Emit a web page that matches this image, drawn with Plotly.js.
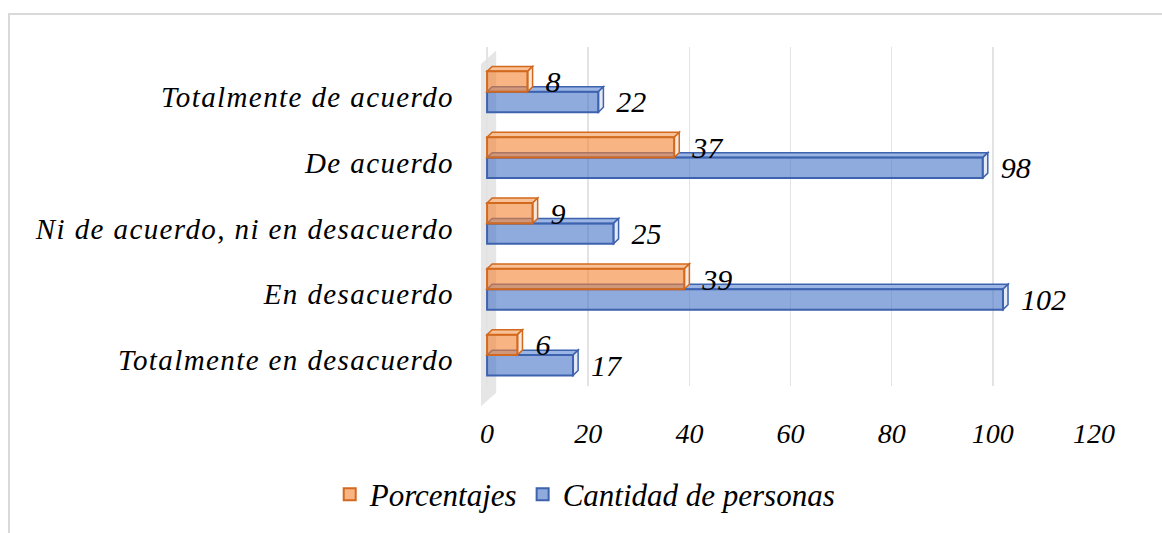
<!DOCTYPE html>
<html><head><meta charset="utf-8">
<script src="https://cdn.plot.ly/plotly-3.0.1.min.js"></script>
<style>
html,body{margin:0;padding:0;background:#fff;}
#wrap{position:relative;width:1162px;height:533px;overflow:hidden;}
#chart{position:absolute;left:0;top:0;width:1162px;height:533px;}
#frame{position:absolute;left:8px;top:13px;width:1200px;height:600px;border:2px solid #d9d9d9;pointer-events:none;box-sizing:border-box;}
#chart .ytick text{letter-spacing:1.4px;}
</style></head>
<body><div id="wrap"><div id="chart"></div><div id="frame"></div></div>
<script>
const categories = ["Totalmente en desacuerdo","En desacuerdo","Ni de acuerdo, ni en desacuerdo","De acuerdo","Totalmente de acuerdo"];
const porcentajes = [6, 39, 9, 37, 8];
const cantidad = [17, 102, 25, 98, 22];
const xTicks = [0, 20, 40, 60, 80, 100, 120];

const idx = categories.map((c, i) => i);
const FONT = "Liberation Serif";
const barW = 0.31;
const blueOff = -0.34, orangeOff = -0.03;
const dx = 1.0, dy = 0.075;

const blue = {fill: "rgba(68,114,196,0.6)", line: "#3D62AE", top: "rgba(150,178,228,0.95)", end: "#e4eaf5"};
const orange = {fill: "rgba(245,130,50,0.6)", line: "#D2691E", top: "rgba(249,190,145,0.95)", end: "#f7e6da"};

function tr(name, vals, off, c, rank) {
  return {
    type: "bar", orientation: "h", name: name, x: vals, y: idx,
    width: barW, offset: off,
    marker: {color: c.fill, line: {color: c.line, width: 2}},
    text: vals.map(v => "  " + v), textposition: "outside", constraintext: "none",
    textfont: {family: FONT, size: 30, color: "#000", style: "italic"},
    cliponaxis: false, legendrank: rank, hoverinfo: "x"
  };
}

const shapes = [];
shapes.push({type: "path", xref: "x", yref: "paper", layer: "below",
  path: "M -1.2,-0.06 L -1.2,0.95 L 1.8,0.99 L 1.8,-0.02 Z",
  fillcolor: "#e6e6e6", line: {width: 0}});
function caps(vals, off, c) {
  vals.forEach((v, i) => {
    const bot = i + off, top = i + off + barW;
    shapes.push({type: "path", xref: "x", yref: "y", layer: "between",
      path: `M 0,${top} L ${v},${top} L ${v + dx},${top + dy} L ${dx},${top + dy} Z`,
      fillcolor: c.top, line: {color: c.line, width: 1.5}});
    shapes.push({type: "path", xref: "x", yref: "y", layer: "between",
      path: `M ${v},${bot} L ${v},${top} L ${v + dx},${top + dy} L ${v + dx},${bot + dy} Z`,
      fillcolor: c.end, line: {color: c.line, width: 1.5}});
  });
}
caps(cantidad, blueOff, blue);
caps(porcentajes, orangeOff, orange);

const data = [
  tr("Cantidad de personas", cantidad, blueOff, blue, 2),
  tr("Porcentajes", porcentajes, orangeOff, orange, 1)
];

const layout = {
  width: 1162, height: 533,
  margin: {l: 481, r: 68, t: 47, b: 143},
  paper_bgcolor: "#fff", plot_bgcolor: "#fff",
  font: {family: FONT, size: 28, color: "#000", style: "italic"},
  showlegend: true,
  legend: {orientation: "h", x: 0.17, xanchor: "center", y: -0.32, yanchor: "middle",
    font: {family: FONT, size: 31, color: "#000", style: "italic"}, itemwidth: 30, tracegroupgap: 0},
  xaxis: {range: [-1.2, 120], tickvals: xTicks, ticktext: xTicks.map(String),
    showgrid: true, gridcolor: "#e3e3e3", gridwidth: 1.5, zeroline: false,
    showline: false, ticks: "", ticklabelstandoff: 28,
    tickfont: {family: FONT, size: 28, color: "#000", style: "italic"}},
  yaxis: {range: [-0.5, 4.65], tickvals: idx, ticktext: categories,
    showgrid: false, zeroline: false, showline: false, ticks: "", ticklabelstandoff: 26,
    ticklabelshift: 7,
    tickfont: {family: FONT, size: 29, color: "#000", style: "italic"}},
  shapes: shapes
};

Plotly.newPlot("chart", data, layout, {displayModeBar: false, staticPlot: true});
</script></body></html>
